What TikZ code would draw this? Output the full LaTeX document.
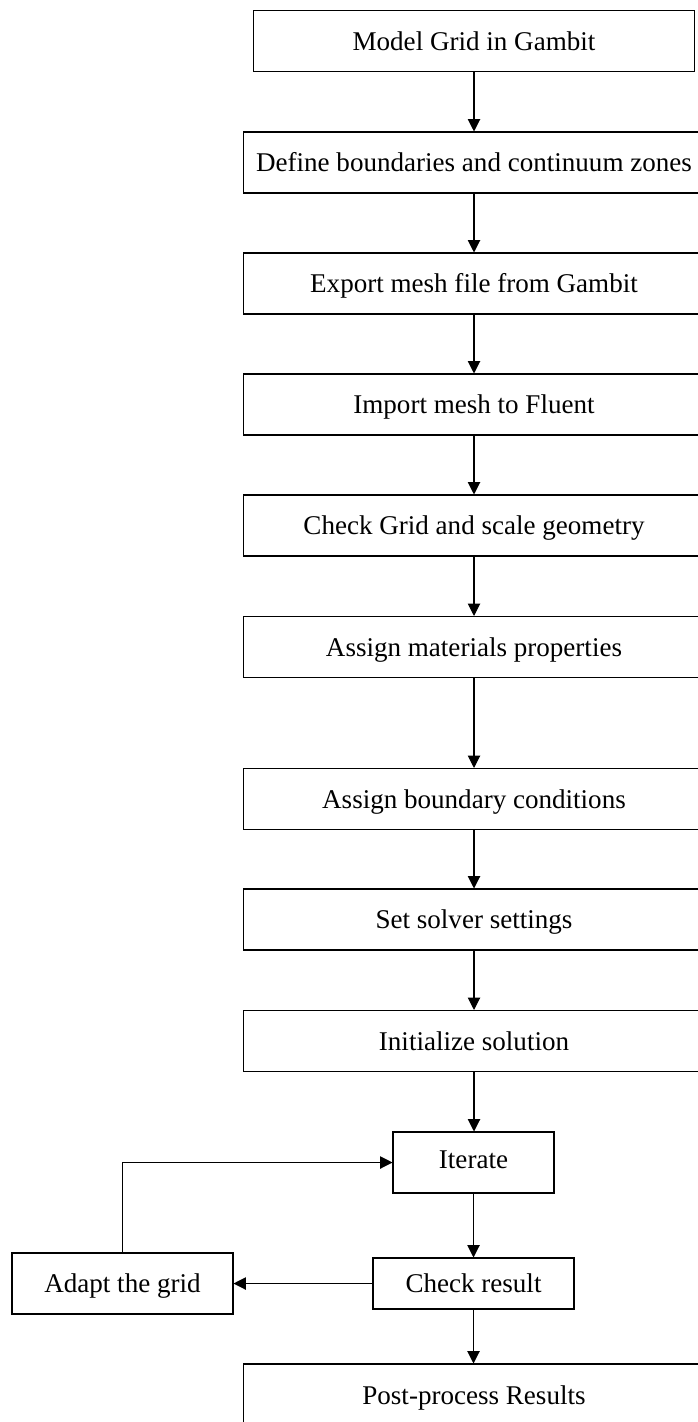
\documentclass[tikz,border=0pt]{standalone}
\usepackage{fontspec}
\setmainfont{Liberation Serif}
\usetikzlibrary{arrows.meta, positioning}

\begin{document}
\begin{tikzpicture}[x=0.02cm, y=-0.02cm,
  stepbox/.style={draw, line width=0.6pt, minimum height=1.22cm, inner sep=0pt, text height=1.05em, text depth=0pt, font=\fontsize{15.4}{18}\selectfont},
  widebox/.style={stepbox, minimum width=9.24cm},
  flow/.style={line width=0.6pt, -{Triangle[length=7pt, width=7pt]}}]
  \useasboundingbox (0,0) rectangle (697,1422);

  % Main column
  \node[stepbox, minimum width=8.82cm] (grid) at (474, 41) {Model Grid in Gambit};
  \node[widebox] (zones) at (474, 162.5) {Define boundaries and continuum zones};
  \node[widebox] (export) at (474, 283.5) {Export mesh file from Gambit};
  \node[widebox] (import) at (474, 404.5) {Import mesh to Fluent};
  \node[widebox] (checkgrid) at (474, 525.5) {Check Grid and scale geometry};
  \node[widebox] (material) at (474, 647) {Assign materials properties};
  \node[widebox] (boundary) at (474, 799) {Assign boundary conditions};
  \node[widebox] (solver) at (474, 919.5) {Set solver settings};
  \node[widebox] (init) at (474, 1041) {Initialize solution};

  % Solution loop
  \node[stepbox, minimum width=3.22cm, text height=0.7em] (iter) at (473.5, 1162.5) {Iterate};
  \node[stepbox, minimum width=4.02cm, minimum height=1.02cm] (check) at (473.5, 1283.5) {Check result};
  \node[stepbox, minimum width=4.42cm] (adapt) at (122.5, 1283.5) {Adapt the grid};
  \node[widebox, minimum height=1.24cm] (post) at (474, 1395) {Post-process Results};

  % Arrows down the column
  \draw[flow] (grid) -- (zones);
  \draw[flow] (zones) -- (export);
  \draw[flow] (export) -- (import);
  \draw[flow] (import) -- (checkgrid);
  \draw[flow] (checkgrid) -- (material);
  \draw[flow] (material) -- (boundary);
  \draw[flow] (boundary) -- (solver);
  \draw[flow] (solver) -- (init);
  \draw[flow] (init.south) -- (init.south |- iter.north);
  \draw[flow] (iter) -- (check);
  \draw[flow] (check.south) -- (check.south |- post.north);

  % Back to iterate
  \draw[flow] (check) -- (adapt);
  \draw[flow] (adapt.north) |- (iter.west);
\end{tikzpicture}
\end{document}
